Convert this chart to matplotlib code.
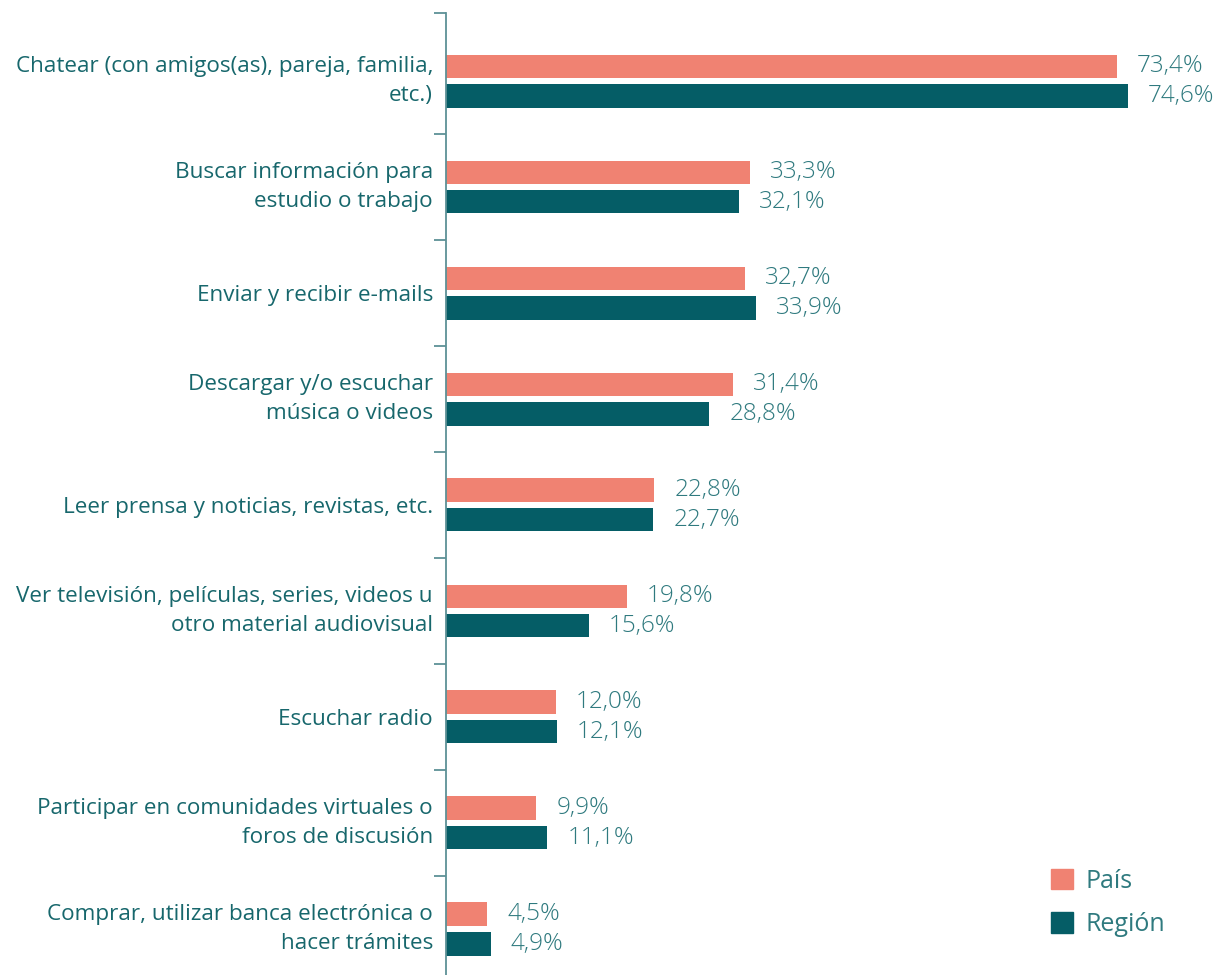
import matplotlib
matplotlib.use("Agg")
import matplotlib.pyplot as plt
from matplotlib.patches import Patch
from matplotlib.transforms import offset_copy, blended_transform_factory
import numpy as np

categories = [
    "Chatear (con amigos(as), pareja, familia,\netc.)",
    "Buscar información para\nestudio o trabajo",
    "Enviar y recibir e-mails",
    "Descargar y/o escuchar\nmúsica o videos",
    "Leer prensa y noticias, revistas, etc.",
    "Ver televisión, películas, series, videos u\notro material audiovisual",
    "Escuchar radio",
    "Participar en comunidades virtuales o\nforos de discusión",
    "Comprar, utilizar banca electrónica o\nhacer trámites",
]
pais = [73.4, 33.3, 32.7, 31.4, 22.8, 19.8, 12.0, 9.9, 4.5]
region = [74.6, 32.1, 33.9, 28.8, 22.7, 15.6, 12.1, 11.1, 4.9]
series_names = ["País", "Región"]

COL_PAIS = "#f08272"
COL_REG = "#055d66"
COL_TXT = "#17676c"
COL_VAL = "#2f7a7f"
COL_AX = "#5d9196"

plt.rcParams['font.family'] = ['Open Sans', 'DejaVu Sans']

W, H = 1219, 975
fig = plt.figure(figsize=(W / 100, H / 100), dpi=100)
ax_left = 446 / W
ax_top = 13 / H
ax = fig.add_axes([ax_left, 0, 1 - ax_left, 1 - ax_top])

n = len(categories)
y = np.arange(n)
bh = 0.217
off = 0.1415
ax.barh(y - off, pais, height=bh, color=COL_PAIS, label=series_names[0])
ax.barh(y + off, region, height=bh, color=COL_REG, label=series_names[1])

ax.set_xlim(0, (W - 446) / 9.14)
ylo = (975 - 81) / 106
yhi = (13 - 81) / 106
ax.set_ylim(ylo, yhi)

fmt = lambda v: f"{v:.1f}".replace(".", ",") + "%"
trans = offset_copy(ax.transData, fig=fig, x=20, y=0, units='dots')
for i in range(n):
    ax.text(pais[i], y[i] - off, fmt(pais[i]), transform=trans, va='center', ha='left',
            fontsize=17.5, color=COL_VAL, fontweight='light')
    ax.text(region[i], y[i] + off, fmt(region[i]), transform=trans, va='center', ha='left',
            fontsize=17.5, color=COL_VAL, fontweight='light')

for s in ['top', 'right', 'bottom']:
    ax.spines[s].set_visible(False)
ax.spines['left'].set_color(COL_AX)
ax.spines['left'].set_linewidth(1.3)
ax.xaxis.set_visible(False)

major = [yhi] + [i + 0.5 for i in range(n - 1)]
ax.set_yticks(major)
ax.set_yticklabels([])
ax.tick_params(axis='y', which='major', length=8.6, width=1.3, color=COL_AX)

# category labels
btrans = offset_copy(blended_transform_factory(ax.transAxes, ax.transData), fig=fig,
                     x=-13, y=0, units='dots')
for i, lab in enumerate(categories):
    multi = "\n" in lab
    ax.text(0, y[i], lab, transform=btrans, ha='right',
            va='center' if multi else 'center_baseline', multialignment='right',
            fontsize=16.2, color=COL_TXT, linespacing=1.55, clip_on=False)

handles = [Patch(color=COL_PAIS), Patch(color=COL_REG)]
fig.legend(handles, series_names, loc='upper left', bbox_to_anchor=(1028 / W, 1 - 846 / H),
           frameon=False, fontsize=18, labelcolor=COL_VAL, handlelength=0.9, handleheight=0.9,
           handletextpad=0.5, labelspacing=0.75)

fig.savefig("out.png", dpi=100)
